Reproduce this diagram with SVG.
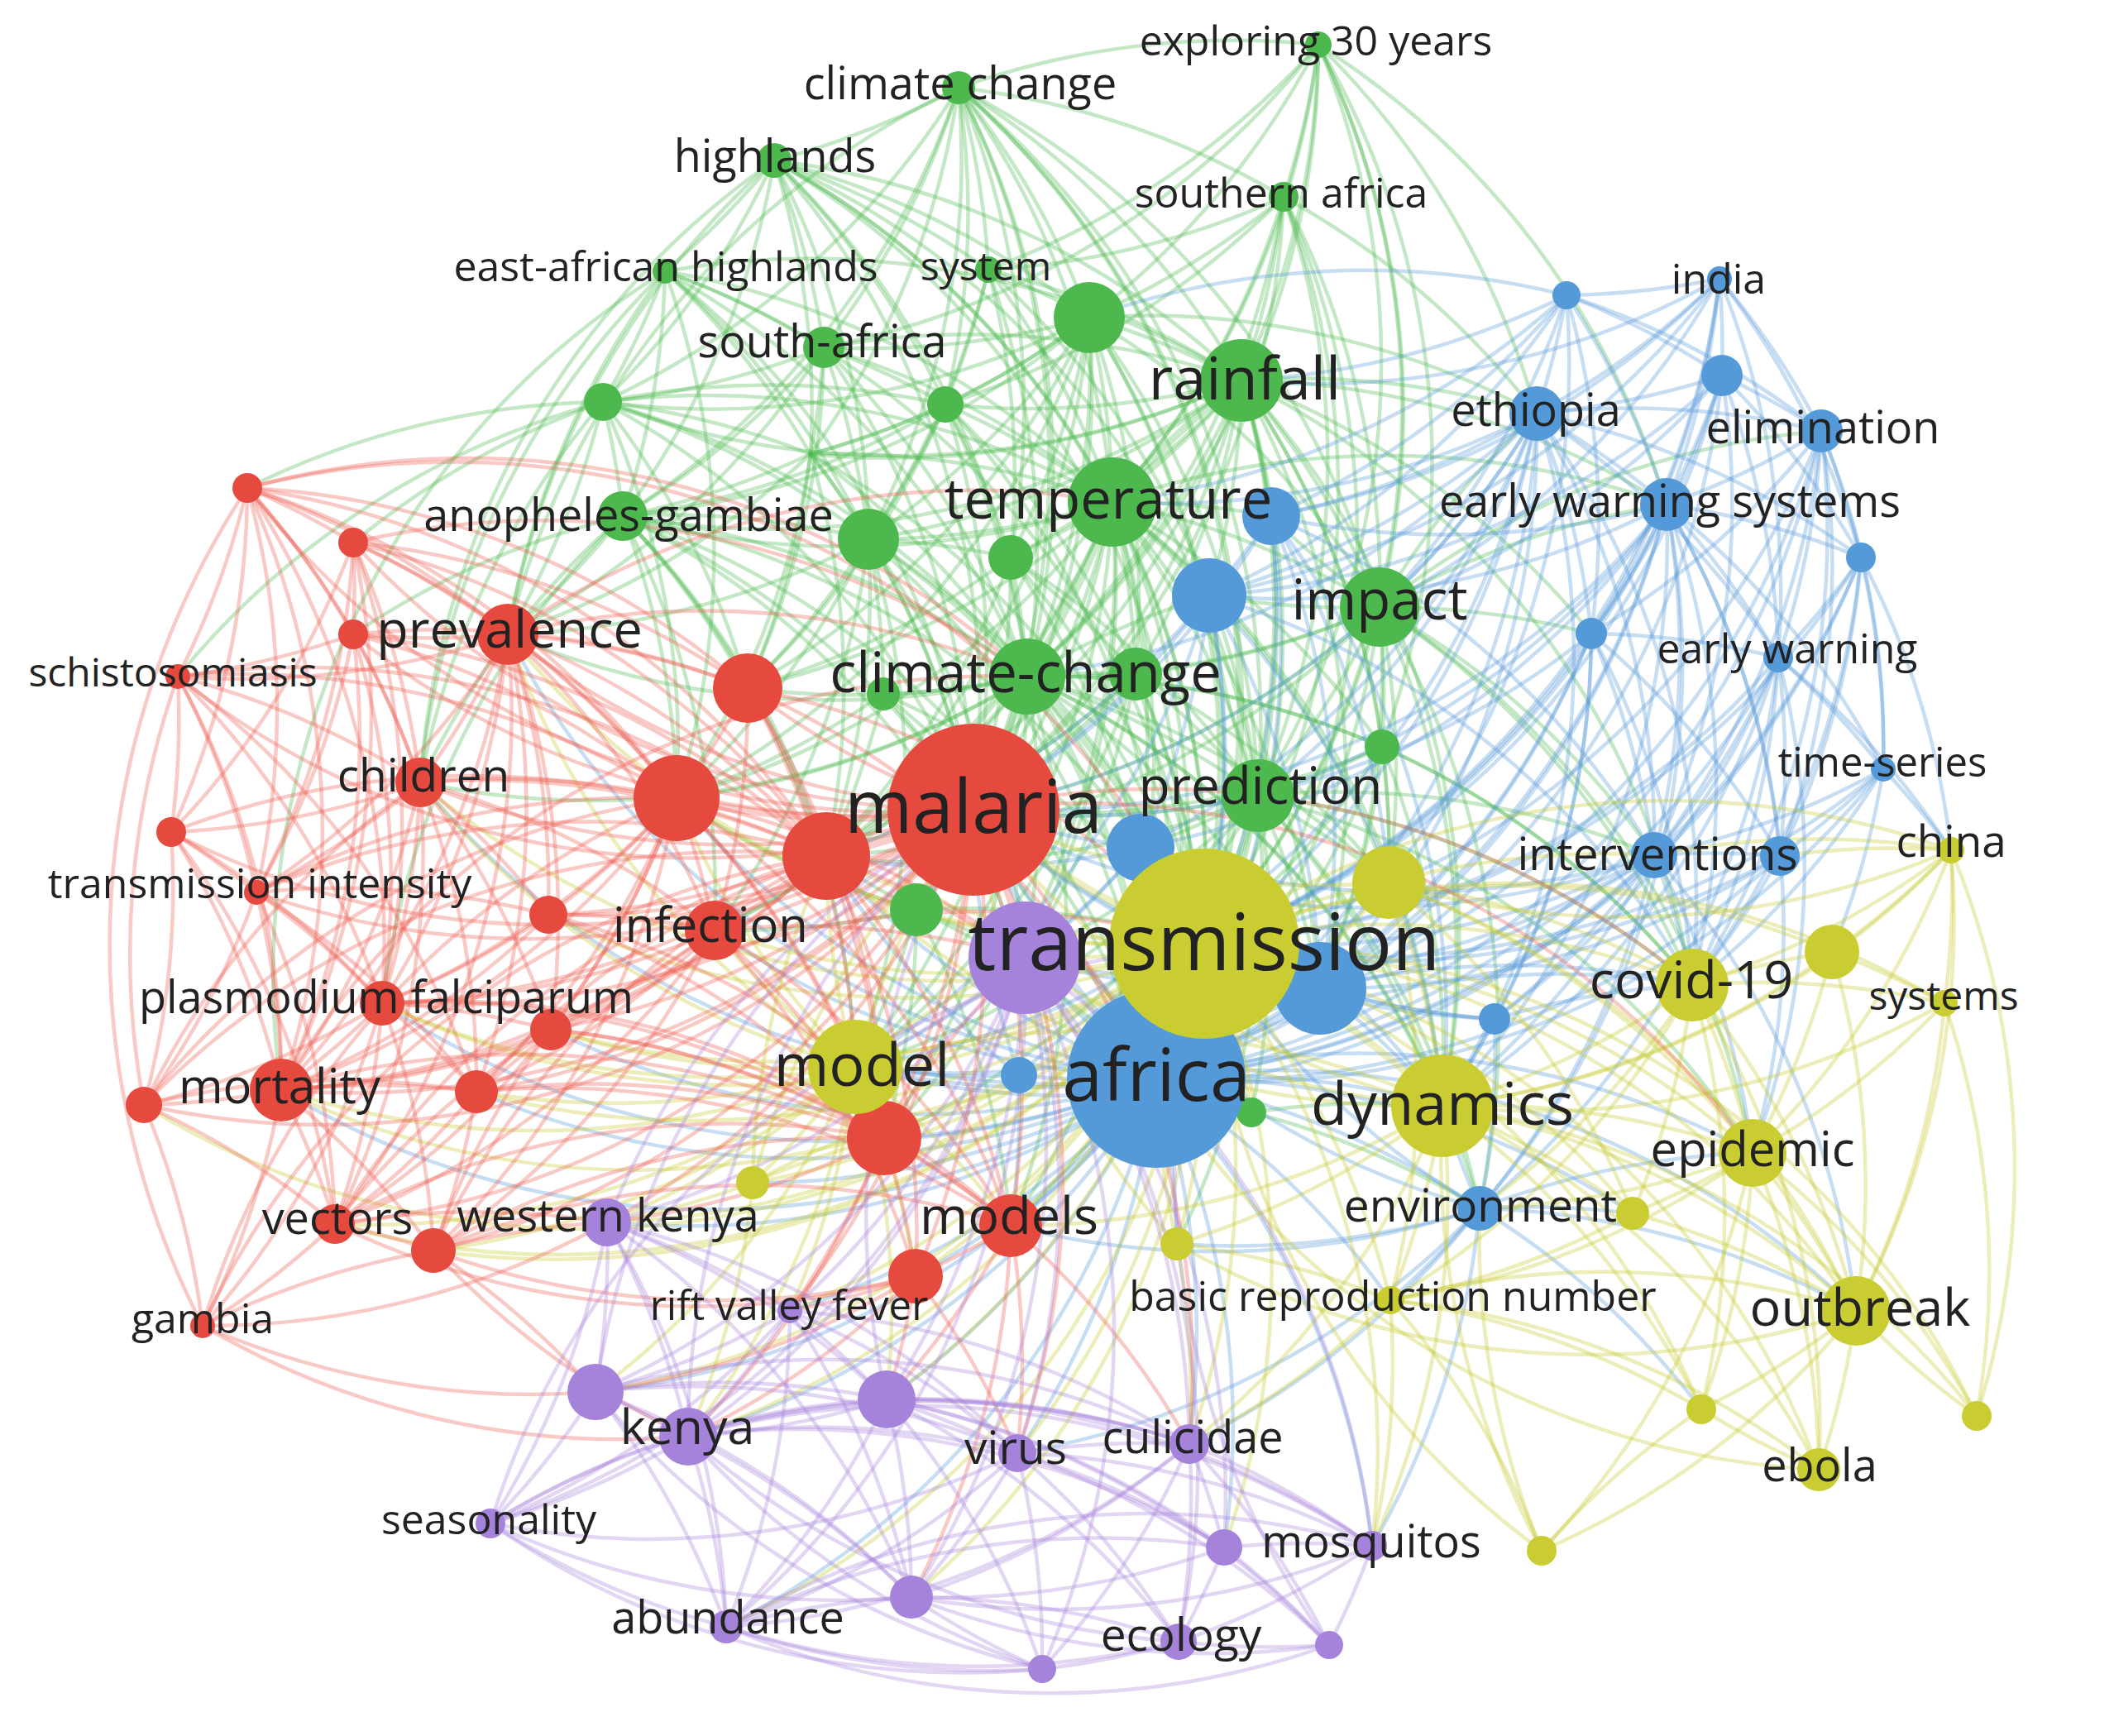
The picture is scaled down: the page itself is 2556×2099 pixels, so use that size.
<svg xmlns="http://www.w3.org/2000/svg" width="2556" height="2099" viewBox="0 0 2556 2099">
<style>
.e path{fill:none;stroke-width:4.5;stroke-opacity:.33;stroke-linecap:round}
.e .h path{stroke-width:9;stroke-opacity:.3}
.eg{stroke:#4db84e}.eb{stroke:#5499d8}.ey{stroke:#c4c82a}.er{stroke:#ec5a4f}.ep{stroke:#a683da}
.R circle{fill:#e64a3f}.G circle{fill:#4db84e}.B circle{fill:#5499d8}.Y circle{fill:#cacd32}.P circle{fill:#a683da}
text{font-family:"Open Sans","Liberation Sans",sans-serif;fill:#222;text-anchor:middle}
</style>
<rect width="2556" height="2099" fill="#fff"/>
<g id="connectors" class="e">
<g class="eg">
<path d="M1159 106A1000 1000 0 0 1 936 194"/><path d="M1159 106A1000 1000 0 0 1 1317 384"/><path d="M1159 106A1000 1000 0 0 1 1501 460"/><path d="M1159 106A1000 1000 0 0 1 1345 607"/><path d="M1159 106A1000 1000 0 0 1 1242 818"/><path d="M1159 106A1000 1000 0 0 1 1143 489"/><path d="M1159 106A1000 1000 0 0 1 980 549"/><path d="M1159 106A1000 1000 0 0 1 1050 652"/><path d="M1159 106A1000 1000 0 0 1 996 420"/><path d="M1159 106A1000 1000 0 0 1 1195 326"/><path d="M1159 106A1000 1000 0 0 1 1521 962"/><path d="M1159 106A1000 1000 0 0 1 753 624"/><path d="M1159 106A1000 1000 0 0 1 729 486"/><path d="M1159 106A1000 1000 0 0 1 1668 734"/><path d="M1159 106A1000 1000 0 0 1 1552 238"/><path d="M1159 106A1000 1000 0 0 1 1177 979"/><path d="M1159 106A1000 1000 0 0 1 1456 1141"/><path d="M1159 106A1000 1000 0 0 1 1222 674"/><path d="M1159 106A1000 1000 0 0 1 1398 1304"/><path d="M1159 106A1000 1000 0 0 0 614 767"/>
<path d="M1594 54A1000 1000 0 0 1 1552 238"/><path d="M1594 54A1000 1000 0 0 1 1501 460"/><path d="M1594 54A1000 1000 0 0 1 1317 384"/><path d="M1594 54A1000 1000 0 0 1 1345 607"/><path d="M1594 54A1000 1000 0 0 1 1668 734"/><path d="M1594 54A1000 1000 0 0 1 1671 903"/><path d="M1594 54A1000 1000 0 0 1 1521 962"/><path d="M1594 54A1000 1000 0 0 1 1242 818"/><path d="M1594 54A1000 1000 0 0 1 1195 326"/><path d="M1594 54A1000 1000 0 0 1 996 420"/><path d="M1594 54A1000 1000 0 0 0 1159 106"/><path d="M1594 54A1000 1000 0 0 1 1858 500"/><path d="M1594 54A1000 1000 0 0 1 2015 610"/><path d="M1594 54A1000 1000 0 0 1 1456 1141"/>
<path d="M936 194A1000 1000 0 0 1 804 328"/><path d="M936 194A1000 1000 0 0 1 996 420"/><path d="M936 194A1000 1000 0 0 1 729 486"/><path d="M936 194A1000 1000 0 0 1 980 549"/><path d="M936 194A1000 1000 0 0 1 1345 607"/><path d="M936 194A1000 1000 0 0 1 1242 818"/><path d="M936 194A1000 1000 0 0 1 753 624"/><path d="M936 194A1000 1000 0 0 1 1501 460"/><path d="M936 194A1000 1000 0 0 1 1317 384"/><path d="M936 194A1000 1000 0 0 1 1143 489"/><path d="M936 194A1000 1000 0 0 1 1050 652"/><path d="M936 194A1000 1000 0 0 1 1177 979"/><path d="M936 194A1000 1000 0 0 1 1521 962"/><path d="M936 194A1000 1000 0 0 1 1195 326"/><path d="M936 194A1000 1000 0 0 0 614 767"/><path d="M936 194A1000 1000 0 0 1 1456 1141"/><path d="M936 194A1000 1000 0 0 1 1398 1304"/><path d="M936 194A1000 1000 0 0 0 508 946"/>
<path d="M1552 238A1000 1000 0 0 1 1501 460"/><path d="M1552 238A1000 1000 0 0 1 1345 607"/><path d="M1552 238A1000 1000 0 0 1 1317 384"/><path d="M1552 238A1000 1000 0 0 1 1668 734"/><path d="M1552 238A1000 1000 0 0 1 1242 818"/><path d="M1552 238A1000 1000 0 0 1 1521 962"/><path d="M1552 238A1000 1000 0 0 1 1195 326"/><path d="M1552 238A1000 1000 0 0 1 1143 489"/><path d="M1552 238A1000 1000 0 0 1 1456 1141"/><path d="M1552 238A1000 1000 0 0 1 1858 500"/><path d="M1552 238A1000 1000 0 0 1 1398 1304"/><path d="M1552 238A1000 1000 0 0 1 1177 979"/>
<path d="M804 328A1000 1000 0 0 1 729 486"/><path d="M804 328A1000 1000 0 0 1 753 624"/><path d="M804 328A1000 1000 0 0 1 980 549"/><path d="M804 328A1000 1000 0 0 1 1242 818"/><path d="M804 328A1000 1000 0 0 1 1345 607"/><path d="M804 328A1000 1000 0 0 1 996 420"/><path d="M804 328A1000 1000 0 0 1 1177 979"/><path d="M804 328A1000 1000 0 0 1 1050 652"/><path d="M804 328A1000 1000 0 0 1 1501 460"/><path d="M804 328A1000 1000 0 0 0 508 946"/><path d="M804 328A1000 1000 0 0 0 340 1318"/><path d="M804 328A1000 1000 0 0 0 614 767"/><path d="M804 328A1000 1000 0 0 1 818 965"/><path d="M804 328A1000 1000 0 0 1 1456 1141"/>
<path d="M1195 326A1000 1000 0 0 1 1317 384"/><path d="M1195 326A1000 1000 0 0 1 1501 460"/><path d="M1195 326A1000 1000 0 0 1 1345 607"/><path d="M1195 326A1000 1000 0 0 1 1242 818"/><path d="M1195 326A1000 1000 0 0 1 1143 489"/><path d="M1195 326A1000 1000 0 0 1 1050 652"/><path d="M1195 326A1000 1000 0 0 1 1222 674"/><path d="M1195 326A1000 1000 0 0 1 1521 962"/>
<path d="M1317 384A1000 1000 0 0 1 1501 460"/><path d="M1317 384A1000 1000 0 0 1 1345 607"/><path d="M1317 384A1000 1000 0 0 1 1242 818"/><path d="M1317 384A1000 1000 0 0 1 1222 674"/><path d="M1317 384A1000 1000 0 0 1 1050 652"/><path d="M1317 384A1000 1000 0 0 1 1143 489"/><path d="M1317 384A1000 1000 0 0 1 980 549"/><path d="M1317 384A1000 1000 0 0 1 996 420"/><path d="M1317 384A1000 1000 0 0 1 1668 734"/><path d="M1317 384A1000 1000 0 0 1 1521 962"/><path d="M1317 384A1000 1000 0 0 1 1373 815"/><path d="M1317 384A1000 1000 0 0 1 1177 979"/><path d="M1317 384A1000 1000 0 0 1 1456 1141"/><path d="M1317 384A1000 1000 0 0 1 1398 1304"/><path d="M1317 384A1000 1000 0 0 1 753 624"/><path d="M1317 384A1000 1000 0 0 1 729 486"/><path d="M1317 384A1000 1000 0 0 1 1858 500"/><path d="M1317 384A1000 1000 0 0 1 904 832"/><path d="M1317 384A1000 1000 0 0 1 999 1035"/><path d="M1317 384A1000 1000 0 0 1 818 965"/>
<path d="M996 420A1000 1000 0 0 1 980 549"/><path d="M996 420A1000 1000 0 0 1 1345 607"/><path d="M996 420A1000 1000 0 0 1 1242 818"/><path d="M996 420A1000 1000 0 0 1 1501 460"/><path d="M996 420A1000 1000 0 0 1 1050 652"/><path d="M996 420A1000 1000 0 0 1 1143 489"/><path d="M996 420A1000 1000 0 0 1 753 624"/><path d="M996 420A1000 1000 0 0 1 1177 979"/><path d="M996 420A1000 1000 0 0 1 729 486"/><path d="M996 420A1000 1000 0 0 1 614 767"/><path d="M996 420A1000 1000 0 0 1 904 832"/>
<path d="M1501 460A1000 1000 0 0 1 1345 607"/><path d="M1501 460A1000 1000 0 0 1 1668 734"/><path d="M1501 460A1000 1000 0 0 1 1242 818"/><path d="M1501 460A1000 1000 0 0 1 1521 962"/><path d="M1501 460A1000 1000 0 0 1 1373 815"/><path d="M1501 460A1000 1000 0 0 1 1222 674"/><path d="M1501 460A1000 1000 0 0 1 1050 652"/><path d="M1501 460A1000 1000 0 0 1 1143 489"/><path d="M1501 460A1000 1000 0 0 1 980 549"/><path d="M1501 460A1000 1000 0 0 1 1858 500"/><path d="M1501 460A1000 1000 0 0 1 1462 720"/><path d="M1501 460A1000 1000 0 0 1 1537 624"/><path d="M1501 460A1000 1000 0 0 1 1177 979"/><path d="M1501 460A1000 1000 0 0 1 1456 1141"/><path d="M1501 460A1000 1000 0 0 1 1398 1304"/><path d="M1501 460A1000 1000 0 0 1 1671 903"/><path d="M1501 460A1000 1000 0 0 1 2015 610"/><path d="M1501 460A1000 1000 0 0 1 753 624"/><path d="M1501 460A1000 1000 0 0 1 1679 1067"/><path d="M1501 460A1000 1000 0 0 1 1596 1195"/><path d="M1501 460A1000 1000 0 0 1 729 486"/><path d="M1501 460A1000 1000 0 0 1 1744 1337"/><path d="M1501 460A1000 1000 0 0 1 2046 1191"/><path d="M1501 460A1000 1000 0 0 1 999 1035"/><path d="M1501 460A1000 1000 0 0 1 1924 766"/>
<path d="M729 486A1000 1000 0 0 1 753 624"/><path d="M729 486A1000 1000 0 0 1 980 549"/><path d="M729 486A1000 1000 0 0 1 1242 818"/><path d="M729 486A1000 1000 0 0 1 1345 607"/><path d="M729 486A1000 1000 0 0 1 614 767"/><path d="M729 486A1000 1000 0 0 1 904 832"/><path d="M729 486A1000 1000 0 0 1 1177 979"/><path d="M729 486A1000 1000 0 0 1 1050 652"/><path d="M729 486A1000 1000 0 0 1 818 965"/><path d="M729 486A1000 1000 0 0 1 1143 489"/><path d="M729 486A1000 1000 0 0 0 215 818"/><path d="M729 486A1000 1000 0 0 0 508 946"/><path d="M729 486A1000 1000 0 0 0 427 656"/><path d="M729 486A1000 1000 0 0 0 299 590"/>
<path d="M1143 489A1000 1000 0 0 1 1345 607"/><path d="M1143 489A1000 1000 0 0 1 1242 818"/><path d="M1143 489A1000 1000 0 0 1 1050 652"/><path d="M1143 489A1000 1000 0 0 1 1222 674"/><path d="M1143 489A1000 1000 0 0 1 1177 979"/><path d="M1143 489A1000 1000 0 0 1 980 549"/><path d="M1143 489A1000 1000 0 0 1 753 624"/><path d="M1143 489A1000 1000 0 0 1 904 832"/><path d="M1143 489A1000 1000 0 0 1 1456 1141"/><path d="M1143 489A1000 1000 0 0 1 1398 1304"/>
<path d="M980 549A1000 1000 0 0 1 753 624"/><path d="M980 549A1000 1000 0 0 1 1050 652"/><path d="M980 549A1000 1000 0 0 1 1242 818"/><path d="M980 549A1000 1000 0 0 1 1345 607"/><path d="M980 549A1000 1000 0 0 1 1177 979"/><path d="M980 549A1000 1000 0 0 1 818 965"/><path d="M980 549A1000 1000 0 0 1 904 832"/><path d="M980 549A1000 1000 0 0 1 614 767"/><path d="M980 549A1000 1000 0 0 1 999 1035"/><path d="M980 549A1000 1000 0 0 1 1456 1141"/>
<path d="M1345 607A1000 1000 0 0 1 1668 734"/><path d="M1345 607A1000 1000 0 0 1 1521 962"/><path d="M1345 607A1000 1000 0 0 1 1373 815"/><path d="M1345 607A1000 1000 0 0 1 1050 652"/><path d="M1345 607A1000 1000 0 0 1 1222 674"/><path d="M1345 607A1000 1000 0 0 1 1177 979"/><path d="M1345 607A1000 1000 0 0 1 1456 1141"/><path d="M1345 607A1000 1000 0 0 1 1398 1304"/><path d="M1345 607A1000 1000 0 0 1 1462 720"/><path d="M1345 607A1000 1000 0 0 1 1537 624"/><path d="M1345 607A1000 1000 0 0 1 753 624"/><path d="M1345 607A1000 1000 0 0 1 1671 903"/><path d="M1345 607A1000 1000 0 0 1 818 965"/><path d="M1345 607A1000 1000 0 0 1 999 1035"/><path d="M1345 607A1000 1000 0 0 1 1034 1290"/><path d="M1345 607A1000 1000 0 0 1 1679 1067"/><path d="M1345 607A1000 1000 0 0 1 1239 1158"/><path d="M1345 607A1000 1000 0 0 1 1108 1100"/><path d="M1345 607A1000 1000 0 0 1 1379 1025"/><path d="M1345 607A1000 1000 0 0 1 1596 1195"/><path d="M1345 607A1000 1000 0 0 1 1744 1337"/><path d="M1345 607A1000 1000 0 0 1 904 832"/><path d="M1345 607A1000 1000 0 0 1 864 1125"/><path d="M1345 607A1000 1000 0 0 1 1069 1376"/><path d="M1345 607A1000 1000 0 0 1 1222 1482"/><path d="M1345 607A1000 1000 0 0 1 2015 610"/>
<path d="M753 624A1000 1000 0 0 1 1050 652"/><path d="M753 624A1000 1000 0 0 1 1242 818"/><path d="M753 624A1000 1000 0 0 1 1177 979"/><path d="M753 624A1000 1000 0 0 1 904 832"/><path d="M753 624A1000 1000 0 0 1 818 965"/><path d="M753 624A1000 1000 0 0 1 614 767"/><path d="M753 624A1000 1000 0 0 1 1456 1141"/><path d="M753 624A1000 1000 0 0 1 1398 1304"/><path d="M753 624A1000 1000 0 0 1 1239 1158"/><path d="M753 624A1000 1000 0 0 1 999 1035"/><path d="M753 624A1000 1000 0 0 0 508 946"/><path d="M753 624A1000 1000 0 0 0 427 767"/><path d="M753 624A1000 1000 0 0 0 462 1213"/><path d="M753 624A1000 1000 0 0 1 864 1125"/><path d="M753 624A1000 1000 0 0 1 1034 1290"/>
<path d="M1050 652A1000 1000 0 0 1 1242 818"/><path d="M1050 652A1000 1000 0 0 1 1177 979"/><path d="M1050 652A1000 1000 0 0 1 1222 674"/><path d="M1050 652A1000 1000 0 0 1 1456 1141"/><path d="M1050 652A1000 1000 0 0 1 1398 1304"/><path d="M1050 652A1000 1000 0 0 1 818 965"/><path d="M1050 652A1000 1000 0 0 1 999 1035"/><path d="M1050 652A1000 1000 0 0 1 1068 839"/><path d="M1050 652A1000 1000 0 0 1 904 832"/><path d="M1050 652A1000 1000 0 0 1 614 767"/><path d="M1050 652A1000 1000 0 0 1 864 1125"/><path d="M1050 652A1000 1000 0 0 1 1239 1158"/><path d="M1050 652A1000 1000 0 0 1 1034 1290"/>
<path d="M1222 674A1000 1000 0 0 1 1242 818"/><path d="M1222 674A1000 1000 0 0 1 1177 979"/><path d="M1222 674A1000 1000 0 0 1 1456 1141"/><path d="M1222 674A1000 1000 0 0 1 1373 815"/><path d="M1222 674A1000 1000 0 0 1 904 832"/><path d="M1222 674A1000 1000 0 0 1 999 1035"/><path d="M1222 674A1000 1000 0 0 1 1398 1304"/><path d="M1222 674A1000 1000 0 0 1 1521 962"/>
<path d="M1668 734A1000 1000 0 0 1 1242 818"/><path d="M1668 734A1000 1000 0 0 1 1521 962"/><path d="M1668 734A1000 1000 0 0 1 1671 903"/><path d="M1668 734A1000 1000 0 0 1 1456 1141"/><path d="M1668 734A1000 1000 0 0 1 1398 1304"/><path d="M1668 734A1000 1000 0 0 1 1177 979"/><path d="M1668 734A1000 1000 0 0 1 1462 720"/><path d="M1668 734A1000 1000 0 0 1 1537 624"/><path d="M1668 734A1000 1000 0 0 1 1858 500"/><path d="M1668 734A1000 1000 0 0 1 2015 610"/><path d="M1668 734A1000 1000 0 0 1 1679 1067"/><path d="M1668 734A1000 1000 0 0 1 1596 1195"/><path d="M1668 734A1000 1000 0 0 1 1744 1337"/><path d="M1668 734A1000 1000 0 0 1 1373 815"/><path d="M1668 734A1000 1000 0 0 1 2000 1034"/><path d="M1668 734A1000 1000 0 0 1 2046 1191"/><path d="M1668 734A1000 1000 0 0 1 1924 766"/><path d="M1668 734A1000 1000 0 0 1 999 1035"/><path d="M1668 734A1000 1000 0 0 1 2119 1394"/><path d="M1668 734A1000 1000 0 0 1 1789 1461"/><path d="M1668 734A1000 1000 0 0 1 2202 521"/>
<path d="M1242 818A1000 1000 0 0 1 1521 962"/><path d="M1242 818A1000 1000 0 0 1 1373 815"/><path d="M1242 818A1000 1000 0 0 1 1068 839"/><path d="M1242 818A1000 1000 0 0 1 999 1035"/><path d="M1242 818A1000 1000 0 0 1 818 965"/><path d="M1242 818A1000 1000 0 0 1 1034 1290"/><path d="M1242 818A1000 1000 0 0 1 1239 1158"/><path d="M1242 818A1000 1000 0 0 1 1462 720"/><path d="M1242 818A1000 1000 0 0 1 1379 1025"/><path d="M1242 818A1000 1000 0 0 1 1108 1100"/><path d="M1242 818A1000 1000 0 0 1 1679 1067"/><path d="M1242 818A1000 1000 0 0 1 1744 1337"/><path d="M1242 818A1000 1000 0 0 1 864 1125"/><path d="M1242 818A1000 1000 0 0 1 904 832"/><path d="M1242 818A1000 1000 0 0 1 1671 903"/><path d="M1242 818A1000 1000 0 0 1 614 767"/><path d="M1242 818A1000 1000 0 0 1 1596 1195"/><path d="M1242 818A1000 1000 0 0 1 1069 1376"/><path d="M1242 818A1000 1000 0 0 1 1222 1482"/><path d="M1242 818A1000 1000 0 0 1 508 946"/><path d="M1242 818A1000 1000 0 0 1 1789 1461"/><path d="M1242 818A1000 1000 0 0 1 2046 1191"/>
<path d="M1373 815A1000 1000 0 0 1 1521 962"/><path d="M1373 815A1000 1000 0 0 1 1177 979"/><path d="M1373 815A1000 1000 0 0 1 1456 1141"/><path d="M1373 815A1000 1000 0 0 1 1398 1304"/><path d="M1373 815A1000 1000 0 0 1 1679 1067"/><path d="M1373 815A1000 1000 0 0 1 1239 1158"/><path d="M1373 815A1000 1000 0 0 1 1034 1290"/><path d="M1373 815A1000 1000 0 0 1 999 1035"/>
<path d="M1671 903A1000 1000 0 0 1 1521 962"/><path d="M1671 903A1000 1000 0 0 1 1456 1141"/><path d="M1671 903A1000 1000 0 0 1 1398 1304"/><path d="M1671 903A1000 1000 0 0 1 1679 1067"/><path d="M1671 903A1000 1000 0 0 1 1596 1195"/><path d="M1671 903A1000 1000 0 0 1 1744 1337"/><path d="M1671 903A1000 1000 0 0 1 2046 1191"/><path d="M1671 903A1000 1000 0 0 1 1177 979"/>
<path d="M1521 962A1000 1000 0 0 1 1456 1141"/><path d="M1521 962A1000 1000 0 0 1 1398 1304"/><path d="M1521 962A1000 1000 0 0 1 1177 979"/><path d="M1521 962A1000 1000 0 0 1 1679 1067"/><path d="M1521 962A1000 1000 0 0 1 1596 1195"/><path d="M1521 962A1000 1000 0 0 1 1744 1337"/><path d="M1521 962A1000 1000 0 0 1 1379 1025"/><path d="M1521 962A1000 1000 0 0 1 1034 1290"/><path d="M1521 962A1000 1000 0 0 1 1462 720"/><path d="M1521 962A1000 1000 0 0 1 1513 1345"/><path d="M1521 962A1000 1000 0 0 1 2000 1034"/><path d="M1521 962A1000 1000 0 0 1 2046 1191"/><path d="M1521 962A1000 1000 0 0 1 999 1035"/><path d="M1521 962A1000 1000 0 0 1 1069 1376"/><path d="M1521 962A1000 1000 0 0 1 1239 1158"/><path d="M1521 962A1000 1000 0 0 1 1789 1461"/><path d="M1521 962A1000 1000 0 0 1 2119 1394"/><path d="M1521 962A1000 1000 0 0 1 1222 1482"/><path d="M1521 962A1000 1000 0 0 1 1423 1504"/>
<path d="M1108 1100A1000 1000 0 0 1 1177 979"/><path d="M1108 1100A1000 1000 0 0 1 1456 1141"/><path d="M1108 1100A1000 1000 0 0 1 1398 1304"/><path d="M1108 1100A1000 1000 0 0 1 999 1035"/><path d="M1108 1100A1000 1000 0 0 1 1239 1158"/><path d="M1108 1100A1000 1000 0 0 1 1034 1290"/><path d="M1108 1100A1000 1000 0 0 1 818 965"/><path d="M1108 1100A1000 1000 0 0 1 1069 1376"/><path d="M1108 1100A1000 1000 0 0 1 1222 1482"/><path d="M1108 1100A1000 1000 0 0 1 864 1125"/>
<path d="M1513 1345A1000 1000 0 0 1 1456 1141"/><path d="M1513 1345A1000 1000 0 0 1 1398 1304"/><path d="M1513 1345A1000 1000 0 0 1 1744 1337"/><path d="M1513 1345A1000 1000 0 0 1 1177 979"/><path d="M1513 1345A1000 1000 0 0 1 1789 1461"/>
<path d="M1068 839A1000 1000 0 0 1 1177 979"/><path d="M1068 839A1000 1000 0 0 1 1456 1141"/><path d="M1068 839A1000 1000 0 0 1 999 1035"/><path d="M1068 839A1000 1000 0 0 1 1398 1304"/><path d="M1068 839A1000 1000 0 0 1 818 965"/>
<g class="h"><path d="M1242 818A1000 1000 0 0 1 1177 979"/><path d="M1345 607A1000 1000 0 0 1 1501 460"/><path d="M1242 818A1000 1000 0 0 1 1456 1141"/><path d="M1242 818A1000 1000 0 0 1 1398 1304"/><path d="M1345 607A1000 1000 0 0 1 1242 818"/></g>
</g>
<g class="eb">
<path d="M2079 337A1000 1000 0 0 1 1894 357"/><path d="M2079 337A1000 1000 0 0 1 2082 454"/><path d="M2079 337A1000 1000 0 0 1 1858 500"/><path d="M2079 337A1000 1000 0 0 1 2015 610"/><path d="M2079 337A1000 1000 0 0 1 2202 521"/><path d="M2079 337A1000 1000 0 0 1 1924 766"/><path d="M2079 337A1000 1000 0 0 1 1462 720"/><path d="M2079 337A1000 1000 0 0 1 1537 624"/><path d="M2079 337A1000 1000 0 0 1 1501 460"/><path d="M2079 337A1000 1000 0 0 1 1668 734"/><path d="M2079 337A1000 1000 0 0 1 1456 1141"/><path d="M2079 337A1000 1000 0 0 1 2250 674"/><path d="M2079 337A1000 1000 0 0 1 2150 795"/>
<path d="M1894 357A1000 1000 0 0 1 1858 500"/><path d="M1894 357A1000 1000 0 0 1 2082 454"/><path d="M1894 357A1000 1000 0 0 1 2202 521"/><path d="M1894 357A1000 1000 0 0 1 2015 610"/><path d="M1894 357A1000 1000 0 0 1 1501 460"/><path d="M1894 357A1000 1000 0 0 1 1668 734"/><path d="M1894 357A1000 1000 0 0 1 1462 720"/><path d="M1894 357A1000 1000 0 0 0 1317 384"/><path d="M1894 357A1000 1000 0 0 1 1345 607"/><path d="M1894 357A1000 1000 0 0 1 1398 1304"/><path d="M1894 357A1000 1000 0 0 1 1924 766"/><path d="M1894 357A1000 1000 0 0 1 1537 624"/>
<path d="M2082 454A1000 1000 0 0 1 1858 500"/><path d="M2082 454A1000 1000 0 0 1 2202 521"/><path d="M2082 454A1000 1000 0 0 1 2015 610"/><path d="M2082 454A1000 1000 0 0 1 1924 766"/><path d="M2082 454A1000 1000 0 0 1 2000 1034"/><path d="M2082 454A1000 1000 0 0 1 1668 734"/><path d="M2082 454A1000 1000 0 0 1 1462 720"/><path d="M2082 454A1000 1000 0 0 1 1456 1141"/><path d="M2082 454A1000 1000 0 0 1 1398 1304"/><path d="M2082 454A1000 1000 0 0 1 2150 795"/><path d="M2082 454A1000 1000 0 0 1 2250 674"/>
<path d="M1858 500A1000 1000 0 0 1 2015 610"/><path d="M1858 500A1000 1000 0 0 1 1462 720"/><path d="M1858 500A1000 1000 0 0 1 1537 624"/><path d="M1858 500A1000 1000 0 0 1 1668 734"/><path d="M1858 500A1000 1000 0 0 1 1924 766"/><path d="M1858 500A1000 1000 0 0 1 2000 1034"/><path d="M1858 500A1000 1000 0 0 1 2202 521"/><path d="M1858 500A1000 1000 0 0 1 1398 1304"/><path d="M1858 500A1000 1000 0 0 1 1456 1141"/><path d="M1858 500A1000 1000 0 0 1 1177 979"/><path d="M1858 500A1000 1000 0 0 1 1345 607"/><path d="M1858 500A1000 1000 0 0 1 1242 818"/><path d="M1858 500A1000 1000 0 0 1 1596 1195"/><path d="M1858 500A1000 1000 0 0 1 2150 795"/><path d="M1858 500A1000 1000 0 0 1 2250 674"/><path d="M1858 500A1000 1000 0 0 1 1744 1337"/><path d="M1858 500A1000 1000 0 0 1 1521 962"/><path d="M1858 500A1000 1000 0 0 1 1379 1025"/><path d="M1858 500A1000 1000 0 0 1 2046 1191"/><path d="M1858 500A1000 1000 0 0 1 1034 1290"/>
<path d="M2202 521A1000 1000 0 0 1 2015 610"/><path d="M2202 521A1000 1000 0 0 1 2250 674"/><path d="M2202 521A1000 1000 0 0 1 2150 795"/><path d="M2202 521A1000 1000 0 0 1 2000 1034"/><path d="M2202 521A1000 1000 0 0 1 1924 766"/><path d="M2202 521A1000 1000 0 0 1 2046 1191"/><path d="M2202 521A1000 1000 0 0 1 2152 1035"/><path d="M2202 521A1000 1000 0 0 1 2277 930"/><path d="M2202 521A1000 1000 0 0 1 1456 1141"/><path d="M2202 521A1000 1000 0 0 1 1398 1304"/><path d="M2202 521A1000 1000 0 0 1 1596 1195"/>
<path d="M2015 610A1000 1000 0 0 1 1924 766"/><path d="M2015 610A1000 1000 0 0 1 2150 795"/><path d="M2015 610A1000 1000 0 0 1 2000 1034"/><path d="M2015 610A1000 1000 0 0 1 1462 720"/><path d="M2015 610A1000 1000 0 0 1 1537 624"/><path d="M2015 610A1000 1000 0 0 1 2250 674"/><path d="M2015 610A1000 1000 0 0 1 1398 1304"/><path d="M2015 610A1000 1000 0 0 1 1456 1141"/><path d="M2015 610A1000 1000 0 0 1 2152 1035"/><path d="M2015 610A1000 1000 0 0 1 1596 1195"/><path d="M2015 610A1000 1000 0 0 1 1521 962"/><path d="M2015 610A1000 1000 0 0 1 2277 930"/><path d="M2015 610A1000 1000 0 0 1 2046 1191"/><path d="M2015 610A1000 1000 0 0 1 1744 1337"/><path d="M2015 610A1000 1000 0 0 1 1177 979"/><path d="M2015 610A1000 1000 0 0 1 2119 1394"/><path d="M2015 610A1000 1000 0 0 1 1789 1461"/><path d="M2015 610A1000 1000 0 0 1 1379 1025"/>
<path d="M1537 624A1000 1000 0 0 1 1462 720"/><path d="M1537 624A1000 1000 0 0 1 1398 1304"/><path d="M1537 624A1000 1000 0 0 1 1456 1141"/><path d="M1537 624A1000 1000 0 0 1 1177 979"/><path d="M1537 624A1000 1000 0 0 1 1596 1195"/><path d="M1537 624A1000 1000 0 0 1 1744 1337"/><path d="M1537 624A1000 1000 0 0 1 1679 1067"/><path d="M1537 624A1000 1000 0 0 1 2000 1034"/>
<path d="M2250 674A1000 1000 0 0 1 2150 795"/><path d="M2250 674A1000 1000 0 0 1 2000 1034"/><path d="M2250 674A1000 1000 0 0 1 2152 1035"/><path d="M2250 674A1000 1000 0 0 1 2277 930"/><path d="M2250 674A1000 1000 0 0 1 2359 1028"/><path d="M2250 674A1000 1000 0 0 1 1456 1141"/><path d="M2250 674A1000 1000 0 0 1 1398 1304"/><path d="M2250 674A1000 1000 0 0 1 2046 1191"/>
<path d="M1462 720A1000 1000 0 0 1 1398 1304"/><path d="M1462 720A1000 1000 0 0 1 1456 1141"/><path d="M1462 720A1000 1000 0 0 1 1177 979"/><path d="M1462 720A1000 1000 0 0 1 1596 1195"/><path d="M1462 720A1000 1000 0 0 1 1379 1025"/><path d="M1462 720A1000 1000 0 0 1 1744 1337"/><path d="M1462 720A1000 1000 0 0 1 1034 1290"/><path d="M1462 720A1000 1000 0 0 1 999 1035"/><path d="M1462 720A1000 1000 0 0 1 2046 1191"/>
<path d="M1924 766A1000 1000 0 0 1 2000 1034"/><path d="M1924 766A1000 1000 0 0 1 2150 795"/><path d="M1924 766A1000 1000 0 0 1 1398 1304"/><path d="M1924 766A1000 1000 0 0 1 1456 1141"/><path d="M1924 766A1000 1000 0 0 1 1596 1195"/><path d="M1924 766A1000 1000 0 0 1 2152 1035"/><path d="M1924 766A1000 1000 0 0 1 1807 1232"/><path d="M1924 766A1000 1000 0 0 1 1177 979"/><path d="M1924 766A1000 1000 0 0 1 1744 1337"/><path d="M1924 766A1000 1000 0 0 1 2046 1191"/>
<path d="M2150 795A1000 1000 0 0 1 2000 1034"/><path d="M2150 795A1000 1000 0 0 1 2152 1035"/><path d="M2150 795A1000 1000 0 0 1 2277 930"/><path d="M2150 795A1000 1000 0 0 1 2359 1028"/><path d="M2150 795A1000 1000 0 0 1 1398 1304"/><path d="M2150 795A1000 1000 0 0 1 1456 1141"/><path d="M2150 795A1000 1000 0 0 1 2046 1191"/><path d="M2150 795A1000 1000 0 0 1 1807 1232"/><path d="M2150 795A1000 1000 0 0 1 1789 1461"/><path d="M2150 795A1000 1000 0 0 1 1744 1337"/><path d="M2150 795A1000 1000 0 0 1 2119 1394"/>
<path d="M2277 930A1000 1000 0 0 1 2000 1034"/><path d="M2277 930A1000 1000 0 0 1 2152 1035"/><path d="M2277 930A1000 1000 0 0 1 2359 1028"/><path d="M2277 930A1000 1000 0 0 1 2046 1191"/><path d="M2277 930A1000 1000 0 0 1 1456 1141"/><path d="M2277 930A1000 1000 0 0 1 1398 1304"/><path d="M2277 930A1000 1000 0 0 1 2215 1151"/>
<path d="M2000 1034A1000 1000 0 0 1 2152 1035"/><path d="M2000 1034A1000 1000 0 0 1 1398 1304"/><path d="M2000 1034A1000 1000 0 0 1 1456 1141"/><path d="M2000 1034A1000 1000 0 0 1 1596 1195"/><path d="M2000 1034A1000 1000 0 0 1 1807 1232"/><path d="M2000 1034A1000 1000 0 0 1 1789 1461"/><path d="M2000 1034A1000 1000 0 0 1 2046 1191"/><path d="M2000 1034A1000 1000 0 0 1 1177 979"/><path d="M2000 1034A1000 1000 0 0 1 1744 1337"/><path d="M2000 1034A1000 1000 0 0 1 1379 1025"/><path d="M2000 1034A1000 1000 0 0 1 2119 1394"/><path d="M2000 1034A1000 1000 0 0 1 1034 1290"/><path d="M2000 1034A1000 1000 0 0 1 2244 1585"/><path d="M2000 1034A1000 1000 0 0 1 1239 1158"/>
<path d="M2152 1035A1000 1000 0 0 1 2046 1191"/><path d="M2152 1035A1000 1000 0 0 1 1456 1141"/><path d="M2152 1035A1000 1000 0 0 1 1398 1304"/><path d="M2152 1035A1000 1000 0 0 1 1596 1195"/>
<path d="M1379 1025A1000 1000 0 0 1 1398 1304"/><path d="M1379 1025A1000 1000 0 0 1 1456 1141"/><path d="M1379 1025A1000 1000 0 0 1 1177 979"/><path d="M1379 1025A1000 1000 0 0 1 1034 1290"/><path d="M1379 1025A1000 1000 0 0 1 1744 1337"/><path d="M1379 1025A1000 1000 0 0 1 1239 1158"/><path d="M1379 1025A1000 1000 0 0 1 999 1035"/>
<path d="M1596 1195A1000 1000 0 0 1 1398 1304"/><path d="M1596 1195A1000 1000 0 0 1 1456 1141"/><path d="M1596 1195A1000 1000 0 0 1 1177 979"/><path d="M1596 1195A1000 1000 0 0 1 1744 1337"/><path d="M1596 1195A1000 1000 0 0 1 1034 1290"/><path d="M1596 1195A1000 1000 0 0 1 2046 1191"/><path d="M1596 1195A1000 1000 0 0 1 1239 1158"/>
<path d="M1398 1304A1000 1000 0 0 1 1034 1290"/><path d="M1398 1304A1000 1000 0 0 1 1744 1337"/><path d="M1398 1304A1000 1000 0 0 1 1239 1158"/><path d="M1398 1304A1000 1000 0 0 1 999 1035"/><path d="M1398 1304A1000 1000 0 0 1 818 965"/><path d="M1398 1304A1000 1000 0 0 1 864 1125"/><path d="M1398 1304A1000 1000 0 0 1 1069 1376"/><path d="M1398 1304A1000 1000 0 0 1 1222 1482"/><path d="M1398 1304A1000 1000 0 0 1 1232 1300"/><path d="M1398 1304A1000 1000 0 0 1 1789 1461"/><path d="M1398 1304A1000 1000 0 0 1 1072 1692"/><path d="M1398 1304A1000 1000 0 0 1 832 1737"/><path d="M1398 1304A1000 1000 0 0 1 1438 1746"/><path d="M1398 1304A1000 1000 0 0 1 1681 1572"/><path d="M1398 1304A1000 1000 0 0 1 2119 1394"/><path d="M1398 1304A1000 1000 0 0 1 2046 1191"/><path d="M1398 1304A1000 1000 0 0 1 614 767"/><path d="M1398 1304A1000 1000 0 0 1 508 946"/><path d="M1398 1304A1000 1000 0 0 1 340 1318"/><path d="M1398 1304A1000 1000 0 0 1 720 1683"/><path d="M1398 1304A1000 1000 0 0 1 734 1478"/><path d="M1398 1304A1000 1000 0 0 1 1107 1543"/><path d="M1398 1304A1000 1000 0 0 1 910 1430"/><path d="M1398 1304A1000 1000 0 0 1 1423 1504"/><path d="M1398 1304A1000 1000 0 0 1 955 1585"/><path d="M1398 1304A1000 1000 0 0 1 1230 1757"/><path d="M1398 1304A1000 1000 0 0 1 2244 1585"/><path d="M1398 1304A1000 1000 0 0 1 1974 1467"/><path d="M1398 1304A1000 1000 0 0 1 462 1213"/><path d="M1398 1304A1000 1000 0 0 1 666 1245"/><path d="M1398 1304A1000 1000 0 0 1 576 1320"/><path d="M1398 1304A1000 1000 0 0 1 1659 1869"/><path d="M1398 1304A1000 1000 0 0 1 878 1967"/><path d="M1398 1304A1000 1000 0 0 1 1480 1871"/>
<path d="M1807 1232A1000 1000 0 0 1 1456 1141"/><path d="M1807 1232A1000 1000 0 0 1 1596 1195"/><path d="M1807 1232A1000 1000 0 0 1 1789 1461"/><path d="M1807 1232A1000 1000 0 0 1 1744 1337"/><path d="M1807 1232A1000 1000 0 0 1 2046 1191"/><path d="M1807 1232A1000 1000 0 0 1 1177 979"/>
<path d="M1232 1300A1000 1000 0 0 1 1456 1141"/><path d="M1232 1300A1000 1000 0 0 1 1177 979"/><path d="M1232 1300A1000 1000 0 0 1 1034 1290"/><path d="M1232 1300A1000 1000 0 0 1 1222 1482"/><path d="M1232 1300A1000 1000 0 0 1 999 1035"/>
<path d="M1789 1461A1000 1000 0 0 1 1456 1141"/><path d="M1789 1461A1000 1000 0 0 1 1744 1337"/><path d="M1789 1461A1000 1000 0 0 1 1681 1572"/><path d="M1789 1461A1000 1000 0 0 1 2119 1394"/><path d="M1789 1461A1000 1000 0 0 1 2244 1585"/><path d="M1789 1461A1000 1000 0 0 1 1438 1746"/><path d="M1789 1461A1000 1000 0 0 1 1659 1869"/><path d="M1789 1461A1000 1000 0 0 1 1974 1467"/><path d="M1789 1461A1000 1000 0 0 1 1423 1504"/><path d="M1789 1461A1000 1000 0 0 1 1230 1757"/><path d="M1789 1461A1000 1000 0 0 1 1177 979"/><path d="M1789 1461A1000 1000 0 0 1 1222 1482"/><path d="M1789 1461A1000 1000 0 0 1 2057 1704"/>
<g class="h"><path d="M1398 1304A1000 1000 0 0 1 1177 979"/><path d="M1398 1304A1000 1000 0 0 1 1456 1141"/></g>
</g>
<g class="ey">
<path d="M1456 1141A1000 1000 0 0 1 1034 1290"/><path d="M1456 1141A1000 1000 0 0 1 2119 1394"/><path d="M1456 1141A1000 1000 0 0 1 2046 1191"/><path d="M1456 1141A1000 1000 0 0 1 2244 1585"/><path d="M1456 1141A1000 1000 0 0 1 1679 1067"/><path d="M1456 1141A1000 1000 0 0 1 1239 1158"/><path d="M1456 1141A1000 1000 0 0 1 999 1035"/><path d="M1456 1141A1000 1000 0 0 1 818 965"/><path d="M1456 1141A1000 1000 0 0 1 864 1125"/><path d="M1456 1141A1000 1000 0 0 1 1069 1376"/><path d="M1456 1141A1000 1000 0 0 1 1222 1482"/><path d="M1456 1141A1000 1000 0 0 1 1681 1572"/><path d="M1456 1141A1000 1000 0 0 1 1974 1467"/><path d="M1456 1141A1000 1000 0 0 1 1423 1504"/><path d="M1456 1141A1000 1000 0 0 1 2215 1151"/><path d="M1456 1141A1000 1000 0 0 1 2359 1028"/><path d="M1456 1141A1000 1000 0 0 1 2351 1213"/><path d="M1456 1141A1000 1000 0 0 1 2199 1777"/><path d="M1456 1141A1000 1000 0 0 1 1072 1692"/><path d="M1456 1141A1000 1000 0 0 1 832 1737"/><path d="M1456 1141A1000 1000 0 0 1 1438 1746"/><path d="M1456 1141A1000 1000 0 0 1 614 767"/><path d="M1456 1141A1000 1000 0 0 1 508 946"/><path d="M1456 1141A1000 1000 0 0 1 340 1318"/><path d="M1456 1141A1000 1000 0 0 1 462 1213"/><path d="M1456 1141A1000 1000 0 0 1 734 1478"/><path d="M1456 1141A1000 1000 0 0 1 910 1430"/><path d="M1456 1141A1000 1000 0 0 1 2057 1704"/><path d="M1456 1141A1000 1000 0 0 1 1230 1757"/><path d="M1456 1141A1000 1000 0 0 1 2390 1712"/><path d="M1456 1141A1000 1000 0 0 1 1480 1871"/><path d="M1456 1141A1000 1000 0 0 1 1659 1869"/><path d="M1456 1141A1000 1000 0 0 1 878 1967"/><path d="M1456 1141A1000 1000 0 0 1 1102 1931"/><path d="M1456 1141A1000 1000 0 0 1 955 1585"/><path d="M1456 1141A1000 1000 0 0 1 720 1683"/><path d="M1456 1141A1000 1000 0 0 1 1107 1543"/><path d="M1456 1141A1000 1000 0 0 1 663 1106"/><path d="M1456 1141A1000 1000 0 0 1 666 1245"/><path d="M1456 1141A1000 1000 0 0 1 576 1320"/><path d="M1456 1141A1000 1000 0 0 1 405 1480"/><path d="M1456 1141A1000 1000 0 0 1 1513 1345"/><path d="M1456 1141A1000 1000 0 0 1 524 1512"/><path d="M1456 1141A1000 1000 0 0 1 174 1336"/>
<path d="M2359 1028A1000 1000 0 0 1 2046 1191"/><path d="M2359 1028A1000 1000 0 0 1 2215 1151"/><path d="M2359 1028A1000 1000 0 0 1 2351 1213"/><path d="M2359 1028A1000 1000 0 0 1 2119 1394"/><path d="M2359 1028A1000 1000 0 0 1 2244 1585"/><path d="M2359 1028A1000 1000 0 0 1 1744 1337"/><path d="M2359 1028A1000 1000 0 0 0 2000 1034"/><path d="M2359 1028A1000 1000 0 0 0 2152 1035"/><path d="M2359 1028A1000 1000 0 0 1 1679 1067"/><path d="M2359 1028A1000 1000 0 0 1 2390 1712"/>
<path d="M1679 1067A1000 1000 0 0 1 1398 1304"/><path d="M1679 1067A1000 1000 0 0 1 1177 979"/><path d="M1679 1067A1000 1000 0 0 1 1744 1337"/><path d="M1679 1067A1000 1000 0 0 1 2046 1191"/><path d="M1679 1067A1000 1000 0 0 1 2119 1394"/><path d="M1679 1067A1000 1000 0 0 1 2244 1585"/><path d="M1679 1067A1000 1000 0 0 1 2000 1034"/><path d="M1679 1067A1000 1000 0 0 1 1974 1467"/><path d="M1679 1067A1000 1000 0 0 1 1681 1572"/>
<path d="M2046 1191A1000 1000 0 0 1 2215 1151"/><path d="M2046 1191A1000 1000 0 0 1 2119 1394"/><path d="M2046 1191A1000 1000 0 0 1 2244 1585"/><path d="M2046 1191A1000 1000 0 0 1 2351 1213"/><path d="M2046 1191A1000 1000 0 0 1 1744 1337"/><path d="M2046 1191A1000 1000 0 0 1 1974 1467"/><path d="M2046 1191A1000 1000 0 0 1 1681 1572"/><path d="M2046 1191A1000 1000 0 0 1 2199 1777"/><path d="M2046 1191A1000 1000 0 0 1 2057 1704"/><path d="M2046 1191A1000 1000 0 0 1 1789 1461"/>
<path d="M2215 1151A1000 1000 0 0 1 2351 1213"/><path d="M2215 1151A1000 1000 0 0 1 2119 1394"/><path d="M2215 1151A1000 1000 0 0 1 2244 1585"/><path d="M2215 1151A1000 1000 0 0 1 1744 1337"/>
<path d="M2351 1213A1000 1000 0 0 1 2119 1394"/><path d="M2351 1213A1000 1000 0 0 1 2244 1585"/><path d="M2351 1213A1000 1000 0 0 1 1744 1337"/><path d="M2351 1213A1000 1000 0 0 1 2390 1712"/>
<path d="M1034 1290A1000 1000 0 0 1 1177 979"/><path d="M1034 1290A1000 1000 0 0 1 999 1035"/><path d="M1034 1290A1000 1000 0 0 1 818 965"/><path d="M1034 1290A1000 1000 0 0 1 864 1125"/><path d="M1034 1290A1000 1000 0 0 1 1069 1376"/><path d="M1034 1290A1000 1000 0 0 1 1239 1158"/><path d="M1034 1290A1000 1000 0 0 1 1222 1482"/><path d="M1034 1290A1000 1000 0 0 1 910 1430"/><path d="M1034 1290A1000 1000 0 0 1 734 1478"/><path d="M1034 1290A1000 1000 0 0 1 832 1737"/><path d="M1034 1290A1000 1000 0 0 1 508 946"/><path d="M1034 1290A1000 1000 0 0 1 462 1213"/><path d="M1034 1290A1000 1000 0 0 1 614 767"/><path d="M1034 1290A1000 1000 0 0 1 666 1245"/><path d="M1034 1290A1000 1000 0 0 1 576 1320"/><path d="M1034 1290A1000 1000 0 0 1 1072 1692"/><path d="M1034 1290A1000 1000 0 0 1 955 1585"/><path d="M1034 1290A1000 1000 0 0 1 1107 1543"/><path d="M1034 1290A1000 1000 0 0 1 720 1683"/><path d="M1034 1290A1000 1000 0 0 1 340 1318"/><path d="M1034 1290A1000 1000 0 0 1 405 1480"/><path d="M1034 1290A1000 1000 0 0 1 524 1512"/><path d="M1034 1290A1000 1000 0 0 1 1744 1337"/>
<path d="M1744 1337A1000 1000 0 0 1 2119 1394"/><path d="M1744 1337A1000 1000 0 0 1 2244 1585"/><path d="M1744 1337A1000 1000 0 0 1 1974 1467"/><path d="M1744 1337A1000 1000 0 0 1 1681 1572"/><path d="M1744 1337A1000 1000 0 0 1 2199 1777"/><path d="M1744 1337A1000 1000 0 0 1 1177 979"/><path d="M1744 1337A1000 1000 0 0 1 1423 1504"/><path d="M1744 1337A1000 1000 0 0 1 2057 1704"/><path d="M1744 1337A1000 1000 0 0 1 1438 1746"/><path d="M1744 1337A1000 1000 0 0 1 1239 1158"/><path d="M1744 1337A1000 1000 0 0 1 999 1035"/><path d="M1744 1337A1000 1000 0 0 1 1222 1482"/><path d="M1744 1337A1000 1000 0 0 1 1659 1869"/><path d="M1744 1337A1000 1000 0 0 1 2390 1712"/>
<path d="M2119 1394A1000 1000 0 0 1 2244 1585"/><path d="M2119 1394A1000 1000 0 0 1 2199 1777"/><path d="M2119 1394A1000 1000 0 0 1 1974 1467"/><path d="M2119 1394A1000 1000 0 0 1 1681 1572"/><path d="M2119 1394A1000 1000 0 0 1 2057 1704"/><path d="M2119 1394A1000 1000 0 0 1 2390 1712"/><path d="M2119 1394A1000 1000 0 0 1 1789 1461"/><path d="M2119 1394A1000 1000 0 0 1 1864 1875"/>
<path d="M910 1430A1000 1000 0 0 1 1177 979"/><path d="M910 1430A1000 1000 0 0 1 734 1478"/><path d="M910 1430A1000 1000 0 0 1 1069 1376"/><path d="M910 1430A1000 1000 0 0 1 1398 1304"/><path d="M910 1430A1000 1000 0 0 1 999 1035"/><path d="M910 1430A1000 1000 0 0 1 832 1737"/>
<path d="M1974 1467A1000 1000 0 0 1 2244 1585"/><path d="M1974 1467A1000 1000 0 0 1 1681 1572"/><path d="M1423 1504A1000 1000 0 0 1 1681 1572"/><path d="M1423 1504A1000 1000 0 0 1 1398 1304"/><path d="M1423 1504A1000 1000 0 0 1 1438 1746"/><path d="M1423 1504A1000 1000 0 0 1 1177 979"/>
<path d="M1681 1572A1000 1000 0 0 1 2244 1585"/><path d="M1681 1572A1000 1000 0 0 1 1864 1875"/><path d="M1681 1572A1000 1000 0 0 1 2199 1777"/><path d="M1681 1572A1000 1000 0 0 1 2057 1704"/><path d="M1681 1572A1000 1000 0 0 1 1438 1746"/><path d="M1681 1572A1000 1000 0 0 1 1659 1869"/>
<path d="M2244 1585A1000 1000 0 0 1 2199 1777"/><path d="M2244 1585A1000 1000 0 0 1 2057 1704"/><path d="M2244 1585A1000 1000 0 0 0 2390 1712"/><path d="M2244 1585A1000 1000 0 0 1 1864 1875"/><path d="M2244 1585A1000 1000 0 0 1 1423 1504"/><path d="M2199 1777A1000 1000 0 0 1 1398 1304"/><path d="M2199 1777A1000 1000 0 0 1 2057 1704"/>
<path d="M1864 1875A1000 1000 0 0 1 1744 1337"/><path d="M1864 1875A1000 1000 0 0 1 1456 1141"/><path d="M1864 1875A1000 1000 0 0 1 1789 1461"/><path d="M1864 1875A1000 1000 0 0 1 2057 1704"/>
<g class="h"><path d="M1456 1141A1000 1000 0 0 1 1177 979"/><path d="M1456 1141A1000 1000 0 0 1 1744 1337"/></g>
</g>
<g class="er">
<path d="M1177 979A1000 1000 0 0 1 904 832"/><path d="M1177 979A1000 1000 0 0 1 614 767"/><path d="M1177 979A1000 1000 0 0 1 508 946"/><path d="M1177 979A1000 1000 0 0 1 864 1125"/><path d="M1177 979A1000 1000 0 0 1 462 1213"/><path d="M1177 979A1000 1000 0 0 1 340 1318"/><path d="M1177 979A1000 1000 0 0 1 1069 1376"/><path d="M1177 979A1000 1000 0 0 1 1222 1482"/><path d="M1177 979A1000 1000 0 0 1 1107 1543"/><path d="M1177 979A1000 1000 0 0 1 663 1106"/><path d="M1177 979A1000 1000 0 0 1 666 1245"/><path d="M1177 979A1000 1000 0 0 1 576 1320"/><path d="M1177 979A1000 1000 0 0 1 405 1480"/><path d="M1177 979A1000 1000 0 0 1 524 1512"/><path d="M1177 979A1000 1000 0 0 1 1239 1158"/><path d="M1177 979A1000 1000 0 0 1 299 590"/><path d="M1177 979A1000 1000 0 0 1 427 656"/><path d="M1177 979A1000 1000 0 0 1 427 767"/><path d="M1177 979A1000 1000 0 0 1 215 818"/><path d="M1177 979A1000 1000 0 0 1 207 1006"/><path d="M1177 979A1000 1000 0 0 1 310 1079"/><path d="M1177 979A1000 1000 0 0 1 174 1336"/><path d="M1177 979A1000 1000 0 0 1 245 1603"/><path d="M1177 979A1000 1000 0 0 1 2119 1394"/><path d="M1177 979A1000 1000 0 0 1 2046 1191"/><path d="M1177 979A1000 1000 0 0 1 1438 1746"/><path d="M1177 979A1000 1000 0 0 1 1230 1757"/><path d="M1177 979A1000 1000 0 0 1 955 1585"/>
<path d="M299 590A1000 1000 0 0 1 614 767"/><path d="M299 590A1000 1000 0 0 1 508 946"/><path d="M299 590A1000 1000 0 0 1 818 965"/><path d="M299 590A1000 1000 0 0 1 427 767"/><path d="M299 590A1000 1000 0 0 1 427 656"/><path d="M299 590A1000 1000 0 0 1 462 1213"/><path d="M299 590A1000 1000 0 0 1 340 1318"/><path d="M299 590A1000 1000 0 0 1 999 1035"/><path d="M299 590A1000 1000 0 0 1 215 818"/><path d="M299 590A1000 1000 0 0 1 904 832"/><path d="M299 590A1000 1000 0 0 1 310 1079"/><path d="M299 590A1000 1000 0 0 1 207 1006"/><path d="M299 590A1000 1000 0 0 1 1456 1141"/><path d="M299 590A1000 1000 0 0 1 1242 818"/>
<path d="M427 656A1000 1000 0 0 1 614 767"/><path d="M427 656A1000 1000 0 0 1 427 767"/><path d="M427 656A1000 1000 0 0 1 508 946"/><path d="M427 656A1000 1000 0 0 1 818 965"/><path d="M427 656A1000 1000 0 0 1 904 832"/><path d="M427 656A1000 1000 0 0 1 462 1213"/><path d="M427 656A1000 1000 0 0 1 340 1318"/><path d="M427 656A1000 1000 0 0 1 999 1035"/><path d="M427 656A1000 1000 0 0 1 310 1079"/><path d="M427 656A1000 1000 0 0 1 207 1006"/><path d="M427 656A1000 1000 0 0 1 1242 818"/>
<path d="M614 767A1000 1000 0 0 1 508 946"/><path d="M614 767A1000 1000 0 0 1 818 965"/><path d="M614 767A1000 1000 0 0 1 904 832"/><path d="M614 767A1000 1000 0 0 1 999 1035"/><path d="M614 767A1000 1000 0 0 1 864 1125"/><path d="M614 767A1000 1000 0 0 1 462 1213"/><path d="M614 767A1000 1000 0 0 1 340 1318"/><path d="M614 767A1000 1000 0 0 1 427 767"/><path d="M614 767A1000 1000 0 0 1 215 818"/><path d="M614 767A1000 1000 0 0 1 310 1079"/><path d="M614 767A1000 1000 0 0 1 663 1106"/><path d="M614 767A1000 1000 0 0 1 1242 818"/><path d="M614 767A1000 1000 0 0 1 1345 607"/><path d="M614 767A1000 1000 0 0 1 576 1320"/><path d="M614 767A1000 1000 0 0 1 666 1245"/><path d="M614 767A1000 1000 0 0 1 405 1480"/>
<path d="M427 767A1000 1000 0 0 1 508 946"/><path d="M427 767A1000 1000 0 0 1 818 965"/><path d="M427 767A1000 1000 0 0 1 462 1213"/><path d="M427 767A1000 1000 0 0 1 215 818"/><path d="M427 767A1000 1000 0 0 1 999 1035"/><path d="M427 767A1000 1000 0 0 1 340 1318"/><path d="M427 767A1000 1000 0 0 1 310 1079"/><path d="M427 767A1000 1000 0 0 1 904 832"/>
<path d="M215 818A1000 1000 0 0 1 508 946"/><path d="M215 818A1000 1000 0 0 1 818 965"/><path d="M215 818A1000 1000 0 0 1 462 1213"/><path d="M215 818A1000 1000 0 0 1 340 1318"/><path d="M215 818A1000 1000 0 0 1 207 1006"/><path d="M215 818A1000 1000 0 0 1 310 1079"/><path d="M215 818A1000 1000 0 0 1 999 1035"/><path d="M215 818A1000 1000 0 0 0 174 1336"/><path d="M215 818A1000 1000 0 0 1 576 1320"/>
<path d="M904 832A1000 1000 0 0 1 818 965"/><path d="M904 832A1000 1000 0 0 1 999 1035"/><path d="M904 832A1000 1000 0 0 1 864 1125"/><path d="M904 832A1000 1000 0 0 1 1456 1141"/><path d="M904 832A1000 1000 0 0 1 1034 1290"/><path d="M904 832A1000 1000 0 0 1 1069 1376"/><path d="M904 832A1000 1000 0 0 1 1398 1304"/>
<path d="M508 946A1000 1000 0 0 1 818 965"/><path d="M508 946A1000 1000 0 0 1 999 1035"/><path d="M508 946A1000 1000 0 0 1 462 1213"/><path d="M508 946A1000 1000 0 0 1 340 1318"/><path d="M508 946A1000 1000 0 0 1 310 1079"/><path d="M508 946A1000 1000 0 0 1 663 1106"/><path d="M508 946A1000 1000 0 0 1 864 1125"/><path d="M508 946A1000 1000 0 0 1 405 1480"/><path d="M508 946A1000 1000 0 0 1 207 1006"/><path d="M508 946A1000 1000 0 0 1 576 1320"/><path d="M508 946A1000 1000 0 0 1 666 1245"/>
<path d="M818 965A1000 1000 0 0 1 864 1125"/><path d="M818 965A1000 1000 0 0 1 462 1213"/><path d="M818 965A1000 1000 0 0 1 340 1318"/><path d="M818 965A1000 1000 0 0 1 405 1480"/><path d="M818 965A1000 1000 0 0 1 524 1512"/><path d="M818 965A1000 1000 0 0 1 663 1106"/><path d="M818 965A1000 1000 0 0 1 666 1245"/><path d="M818 965A1000 1000 0 0 1 576 1320"/><path d="M818 965A1000 1000 0 0 1 1069 1376"/><path d="M818 965A1000 1000 0 0 1 1222 1482"/><path d="M818 965A1000 1000 0 0 1 1034 1290"/><path d="M818 965A1000 1000 0 0 1 1239 1158"/>
<path d="M207 1006A1000 1000 0 0 1 462 1213"/><path d="M207 1006A1000 1000 0 0 1 340 1318"/><path d="M207 1006A1000 1000 0 0 1 310 1079"/><path d="M207 1006A1000 1000 0 0 1 999 1035"/><path d="M207 1006A1000 1000 0 0 1 174 1336"/><path d="M207 1006A1000 1000 0 0 1 405 1480"/>
<path d="M999 1035A1000 1000 0 0 1 864 1125"/><path d="M999 1035A1000 1000 0 0 1 1069 1376"/><path d="M999 1035A1000 1000 0 0 1 1222 1482"/><path d="M999 1035A1000 1000 0 0 1 663 1106"/><path d="M999 1035A1000 1000 0 0 1 462 1213"/><path d="M999 1035A1000 1000 0 0 1 666 1245"/><path d="M999 1035A1000 1000 0 0 1 340 1318"/><path d="M999 1035A1000 1000 0 0 1 1239 1158"/><path d="M999 1035A1000 1000 0 0 1 1107 1543"/>
<path d="M310 1079A1000 1000 0 0 1 462 1213"/><path d="M310 1079A1000 1000 0 0 1 340 1318"/><path d="M310 1079A1000 1000 0 0 1 663 1106"/><path d="M310 1079A1000 1000 0 0 1 174 1336"/><path d="M310 1079A1000 1000 0 0 1 818 965"/><path d="M310 1079A1000 1000 0 0 1 999 1035"/><path d="M310 1079A1000 1000 0 0 1 576 1320"/><path d="M310 1079A1000 1000 0 0 1 405 1480"/>
<path d="M663 1106A1000 1000 0 0 1 864 1125"/><path d="M663 1106A1000 1000 0 0 1 462 1213"/><path d="M663 1106A1000 1000 0 0 1 340 1318"/><path d="M663 1106A1000 1000 0 0 1 1069 1376"/><path d="M663 1106A1000 1000 0 0 1 1034 1290"/>
<path d="M864 1125A1000 1000 0 0 1 462 1213"/><path d="M864 1125A1000 1000 0 0 1 340 1318"/><path d="M864 1125A1000 1000 0 0 1 1069 1376"/><path d="M864 1125A1000 1000 0 0 1 666 1245"/><path d="M864 1125A1000 1000 0 0 1 576 1320"/><path d="M864 1125A1000 1000 0 0 1 405 1480"/><path d="M864 1125A1000 1000 0 0 1 524 1512"/><path d="M864 1125A1000 1000 0 0 1 1222 1482"/><path d="M864 1125A1000 1000 0 0 1 1107 1543"/><path d="M864 1125A1000 1000 0 0 1 1239 1158"/>
<path d="M462 1213A1000 1000 0 0 1 340 1318"/><path d="M462 1213A1000 1000 0 0 1 576 1320"/><path d="M462 1213A1000 1000 0 0 1 666 1245"/><path d="M462 1213A1000 1000 0 0 1 405 1480"/><path d="M462 1213A1000 1000 0 0 1 524 1512"/><path d="M462 1213A1000 1000 0 0 1 174 1336"/><path d="M462 1213A1000 1000 0 0 1 245 1603"/><path d="M462 1213A1000 1000 0 0 1 1069 1376"/><path d="M462 1213A1000 1000 0 0 1 1222 1482"/>
<path d="M666 1245A1000 1000 0 0 1 340 1318"/><path d="M666 1245A1000 1000 0 0 1 576 1320"/><path d="M666 1245A1000 1000 0 0 1 1069 1376"/><path d="M666 1245A1000 1000 0 0 1 1222 1482"/><path d="M666 1245A1000 1000 0 0 1 1456 1141"/>
<path d="M340 1318A1000 1000 0 0 1 174 1336"/><path d="M340 1318A1000 1000 0 0 1 405 1480"/><path d="M340 1318A1000 1000 0 0 1 524 1512"/><path d="M340 1318A1000 1000 0 0 1 576 1320"/><path d="M340 1318A1000 1000 0 0 1 245 1603"/><path d="M340 1318A1000 1000 0 0 1 1069 1376"/><path d="M340 1318A1000 1000 0 0 1 1242 818"/>
<path d="M174 1336A1000 1000 0 0 1 405 1480"/><path d="M174 1336A1000 1000 0 0 1 245 1603"/><path d="M174 1336A1000 1000 0 0 1 508 946"/><path d="M174 1336A1000 1000 0 0 1 818 965"/><path d="M174 1336A1000 1000 0 0 1 999 1035"/><path d="M174 1336A1000 1000 0 0 1 576 1320"/>
<path d="M576 1320A1000 1000 0 0 1 405 1480"/><path d="M576 1320A1000 1000 0 0 1 524 1512"/><path d="M576 1320A1000 1000 0 0 1 1069 1376"/><path d="M576 1320A1000 1000 0 0 1 999 1035"/><path d="M576 1320A1000 1000 0 0 1 1222 1482"/>
<path d="M1069 1376A1000 1000 0 0 1 1222 1482"/><path d="M1069 1376A1000 1000 0 0 1 1107 1543"/><path d="M1069 1376A1000 1000 0 0 1 1239 1158"/><path d="M1069 1376A1000 1000 0 0 1 734 1478"/><path d="M1069 1376A1000 1000 0 0 1 955 1585"/><path d="M1069 1376A1000 1000 0 0 1 832 1737"/>
<path d="M405 1480A1000 1000 0 0 1 524 1512"/><path d="M405 1480A1000 1000 0 0 1 245 1603"/><path d="M405 1480A1000 1000 0 0 1 999 1035"/><path d="M405 1480A1000 1000 0 0 0 1107 1543"/><path d="M405 1480A1000 1000 0 0 1 734 1478"/><path d="M405 1480A1000 1000 0 0 1 666 1245"/><path d="M405 1480A1000 1000 0 0 1 1069 1376"/>
<path d="M524 1512A1000 1000 0 0 0 1107 1543"/><path d="M524 1512A1000 1000 0 0 1 999 1035"/><path d="M524 1512A1000 1000 0 0 1 1069 1376"/><path d="M524 1512A1000 1000 0 0 1 734 1478"/><path d="M524 1512A1000 1000 0 0 1 720 1683"/><path d="M524 1512A1000 1000 0 0 0 832 1737"/><path d="M524 1512A1000 1000 0 0 1 1222 1482"/><path d="M524 1512A1000 1000 0 0 1 666 1245"/>
<path d="M1222 1482A1000 1000 0 0 1 1107 1543"/><path d="M1222 1482A1000 1000 0 0 1 1072 1692"/><path d="M1222 1482A1000 1000 0 0 1 1230 1757"/><path d="M1222 1482A1000 1000 0 0 1 1438 1746"/><path d="M1222 1482A1000 1000 0 0 1 1102 1931"/>
<path d="M1107 1543A1000 1000 0 0 1 1072 1692"/><path d="M1107 1543A1000 1000 0 0 1 832 1737"/><path d="M1107 1543A1000 1000 0 0 1 955 1585"/><path d="M1107 1543A1000 1000 0 0 1 1230 1757"/><path d="M1107 1543A1000 1000 0 0 1 720 1683"/>
<path d="M245 1603A1000 1000 0 0 1 818 965"/><path d="M245 1603A1000 1000 0 0 0 720 1683"/><path d="M245 1603A1000 1000 0 0 0 832 1737"/><path d="M245 1603A1000 1000 0 0 1 524 1512"/><path d="M299 590A1000 1000 0 0 0 245 1603"/><path d="M245 1603A1000 1000 0 0 1 999 1035"/>
<g class="h"><path d="M1177 979A1000 1000 0 0 1 818 965"/><path d="M1177 979A1000 1000 0 0 1 999 1035"/></g>
</g>
<g class="ep">
<path d="M1239 1158A1000 1000 0 0 1 734 1478"/><path d="M1239 1158A1000 1000 0 0 1 720 1683"/><path d="M1239 1158A1000 1000 0 0 1 1072 1692"/><path d="M1239 1158A1000 1000 0 0 1 832 1737"/><path d="M1239 1158A1000 1000 0 0 1 1230 1757"/><path d="M1239 1158A1000 1000 0 0 1 1438 1746"/><path d="M1239 1158A1000 1000 0 0 1 878 1967"/><path d="M1239 1158A1000 1000 0 0 1 1102 1931"/><path d="M1239 1158A1000 1000 0 0 1 955 1585"/><path d="M1239 1158A1000 1000 0 0 1 1034 1290"/><path d="M1239 1158A1000 1000 0 0 1 593 1842"/><path d="M1239 1158A1000 1000 0 0 1 1480 1871"/><path d="M1239 1158A1000 1000 0 0 1 1425 1985"/><path d="M1239 1158A1000 1000 0 0 1 1659 1869"/><path d="M1239 1158A1000 1000 0 0 1 1260 2018"/>
<path d="M734 1478A1000 1000 0 0 1 720 1683"/><path d="M734 1478A1000 1000 0 0 1 832 1737"/><path d="M734 1478A1000 1000 0 0 1 1072 1692"/><path d="M734 1478A1000 1000 0 0 1 955 1585"/><path d="M734 1478A1000 1000 0 0 1 593 1842"/><path d="M734 1478A1000 1000 0 0 1 878 1967"/><path d="M734 1478A1000 1000 0 0 1 1177 979"/><path d="M734 1478A1000 1000 0 0 1 1230 1757"/><path d="M734 1478A1000 1000 0 0 1 1102 1931"/>
<path d="M955 1585A1000 1000 0 0 1 832 1737"/><path d="M955 1585A1000 1000 0 0 1 1072 1692"/><path d="M955 1585A1000 1000 0 0 1 1230 1757"/><path d="M955 1585A1000 1000 0 0 1 720 1683"/><path d="M955 1585A1000 1000 0 0 1 1102 1931"/><path d="M955 1585A1000 1000 0 0 1 1438 1746"/><path d="M955 1585A1000 1000 0 0 1 878 1967"/><path d="M955 1585A1000 1000 0 0 1 593 1842"/>
<path d="M720 1683A1000 1000 0 0 1 832 1737"/><path d="M720 1683A1000 1000 0 0 1 1072 1692"/><path d="M720 1683A1000 1000 0 0 1 593 1842"/><path d="M720 1683A1000 1000 0 0 1 878 1967"/><path d="M720 1683A1000 1000 0 0 1 1102 1931"/><path d="M720 1683A1000 1000 0 0 1 1230 1757"/><path d="M720 1683A1000 1000 0 0 1 1177 979"/><path d="M720 1683A1000 1000 0 0 1 1438 1746"/><path d="M720 1683A1000 1000 0 0 0 1260 2018"/>
<path d="M1072 1692A1000 1000 0 0 1 832 1737"/><path d="M1072 1692A1000 1000 0 0 1 1230 1757"/><path d="M1072 1692A1000 1000 0 0 1 1438 1746"/><path d="M1072 1692A1000 1000 0 0 1 1102 1931"/><path d="M1072 1692A1000 1000 0 0 1 878 1967"/><path d="M1072 1692A1000 1000 0 0 1 1260 2018"/><path d="M1072 1692A1000 1000 0 0 1 1425 1985"/><path d="M1072 1692A1000 1000 0 0 1 1177 979"/><path d="M1072 1692A1000 1000 0 0 1 1480 1871"/><path d="M1072 1692A1000 1000 0 0 1 1607 1989"/><path d="M1072 1692A1000 1000 0 0 1 1659 1869"/>
<path d="M832 1737A1000 1000 0 0 1 1230 1757"/><path d="M832 1737A1000 1000 0 0 1 1438 1746"/><path d="M832 1737A1000 1000 0 0 1 593 1842"/><path d="M832 1737A1000 1000 0 0 1 878 1967"/><path d="M832 1737A1000 1000 0 0 1 1102 1931"/><path d="M832 1737A1000 1000 0 0 0 1260 2018"/><path d="M832 1737A1000 1000 0 0 0 1425 1985"/><path d="M832 1737A1000 1000 0 0 1 1177 979"/><path d="M832 1737A1000 1000 0 0 1 1480 1871"/><path d="M832 1737A1000 1000 0 0 1 1659 1869"/>
<path d="M1230 1757A1000 1000 0 0 1 1438 1746"/><path d="M1230 1757A1000 1000 0 0 1 1102 1931"/><path d="M1230 1757A1000 1000 0 0 1 1425 1985"/><path d="M1230 1757A1000 1000 0 0 1 1260 2018"/><path d="M1230 1757A1000 1000 0 0 1 1480 1871"/><path d="M1230 1757A1000 1000 0 0 1 878 1967"/><path d="M1230 1757A1000 1000 0 0 1 1607 1989"/><path d="M1230 1757A1000 1000 0 0 1 1659 1869"/><path d="M1230 1757A1000 1000 0 0 1 593 1842"/>
<path d="M1438 1746A1000 1000 0 0 1 1480 1871"/><path d="M1438 1746A1000 1000 0 0 1 1659 1869"/><path d="M1438 1746A1000 1000 0 0 1 1425 1985"/><path d="M1438 1746A1000 1000 0 0 1 1607 1989"/><path d="M1438 1746A1000 1000 0 0 1 1102 1931"/><path d="M1438 1746A1000 1000 0 0 1 878 1967"/><path d="M1438 1746A1000 1000 0 0 1 1260 2018"/>
<path d="M593 1842A1000 1000 0 0 0 878 1967"/><path d="M593 1842A1000 1000 0 0 0 1102 1931"/><path d="M593 1842A1000 1000 0 0 1 1072 1692"/><path d="M593 1842A1000 1000 0 0 1 1456 1141"/><path d="M593 1842A1000 1000 0 0 0 1260 2018"/><path d="M593 1842A1000 1000 0 0 1 1438 1746"/>
<path d="M1480 1871A1000 1000 0 0 1 1659 1869"/><path d="M1480 1871A1000 1000 0 0 1 1425 1985"/><path d="M1480 1871A1000 1000 0 0 1 1607 1989"/><path d="M1480 1871A1000 1000 0 0 1 1102 1931"/>
<path d="M1659 1869A1000 1000 0 0 1 1607 1989"/><path d="M1659 1869A1000 1000 0 0 1 1425 1985"/><path d="M1659 1869A1000 1000 0 0 1 1102 1931"/><path d="M878 1967A1000 1000 0 0 1 1659 1869"/>
<path d="M878 1967A1000 1000 0 0 1 1102 1931"/><path d="M878 1967A1000 1000 0 0 0 1425 1985"/><path d="M878 1967A1000 1000 0 0 0 1260 2018"/><path d="M878 1967A1000 1000 0 0 0 1607 1989"/><path d="M878 1967A1000 1000 0 0 1 1480 1871"/>
<path d="M1102 1931A1000 1000 0 0 1 1425 1985"/><path d="M1102 1931A1000 1000 0 0 0 1260 2018"/><path d="M1102 1931A1000 1000 0 0 0 1607 1989"/><path d="M1425 1985A1000 1000 0 0 1 1260 2018"/><path d="M1425 1985A1000 1000 0 0 0 1607 1989"/><path d="M1607 1989A1000 1000 0 0 1 1456 1141"/>
</g>
</g>
<g id="nodes">
<g id="n-east-african-highlands" class="G"><circle cx="804" cy="328" r="15"/><text x="805" y="340" font-size="50">east-african highlands</text></g>
<g id="n-india" class="B"><circle cx="2079" cy="337" r="15"/><text x="2078" y="355" font-size="50">india</text></g>
<g id="n-time-series" class="B"><circle cx="2277" cy="930" r="15"/><text x="2276" y="939" font-size="49">time-series</text></g>
<g id="n-schistosomiasis" class="R"><circle cx="215" cy="818" r="15"/><text x="209" y="830" font-size="48">schistosomiasis</text></g>
<g id="n-transmission-intensity" class="R"><circle cx="310" cy="1079" r="15"/><text x="314" y="1086" font-size="50">transmission intensity</text></g>
<g id="n-gambia" class="R"><circle cx="245" cy="1603" r="15"/><text x="245" y="1612" font-size="50">gambia</text></g>
<g id="n-exploring-30-years" class="G"><circle cx="1594" cy="54" r="16"/><text x="1591" y="67" font-size="50">exploring 30 years</text></g>
<g id="n-system" class="G"><circle cx="1195" cy="326" r="16"/><text x="1192" y="339" font-size="48">system</text></g>
<g id="n-china" class="Y"><circle cx="2359" cy="1028" r="16"/><text x="2359" y="1036" font-size="53">china</text></g>
<g id="n-systems" class="Y"><circle cx="2351" cy="1213" r="16"/><text x="2350" y="1221" font-size="48">systems</text></g>
<g id="n-b2" class="B"><circle cx="1894" cy="357" r="17"/></g>
<g id="n-basic-reproduction-number" class="Y"><circle cx="1681" cy="1572" r="17"/><text x="1684" y="1585" font-size="50">basic reproduction number</text></g>
<g id="n-p15" class="P"><circle cx="1260" cy="2018" r="17"/></g>
<g id="n-p16" class="P"><circle cx="1607" cy="1989" r="17"/></g>
<g id="n-southern-africa" class="G"><circle cx="1552" cy="238" r="18"/><text x="1549" y="251" font-size="50">southern africa</text></g>
<g id="n-b8" class="B"><circle cx="2250" cy="674" r="18"/></g>
<g id="n-early-warning" class="B"><circle cx="2150" cy="795" r="18"/><text x="2161" y="802" font-size="50">early warning</text></g>
<g id="n-y15" class="Y"><circle cx="2057" cy="1704" r="18"/></g>
<g id="n-y16" class="Y"><circle cx="2390" cy="1712" r="18"/></g>
<g id="n-y18" class="Y"><circle cx="1864" cy="1875" r="18"/></g>
<g id="n-r2" class="R"><circle cx="299" cy="590" r="18"/></g>
<g id="n-r3" class="R"><circle cx="427" cy="656" r="18"/></g>
<g id="n-r5" class="R"><circle cx="427" cy="767" r="18"/></g>
<g id="n-r10" class="R"><circle cx="207" cy="1006" r="18"/></g>
<g id="n-seasonality" class="P"><circle cx="593" cy="1842" r="18"/><text x="591" y="1855" font-size="50">seasonality</text></g>
<g id="n-mosquitos" class="P"><circle cx="1659" cy="1869" r="18"/><text x="1658" y="1883" font-size="54">mosquitos</text></g>
<g id="n-g24" class="G"><circle cx="1513" cy="1345" r="18"/></g>
<g id="n-b10" class="B"><circle cx="1924" cy="766" r="19"/></g>
<g id="n-b18" class="B"><circle cx="1807" cy="1232" r="19"/></g>
<g id="n-climate-change" class="G"><circle cx="1159" cy="106" r="20"/><text x="1161" y="120" font-size="54">climate change</text></g>
<g id="n-g20" class="G"><circle cx="1068" cy="839" r="20"/></g>
<g id="n-y10" class="Y"><circle cx="910" cy="1430" r="20"/></g>
<g id="n-y11" class="Y"><circle cx="1974" cy="1467" r="20"/></g>
<g id="n-y12" class="Y"><circle cx="1423" cy="1504" r="20"/></g>
<g id="n-abundance" class="P"><circle cx="878" cy="1967" r="20"/><text x="880" y="1975" font-size="54">abundance</text></g>
<g id="n-highlands" class="G"><circle cx="936" cy="194" r="21"/><text x="937" y="208" font-size="54">highlands</text></g>
<g id="n-g21" class="G"><circle cx="1671" cy="903" r="21"/></g>
<g id="n-g11" class="G"><circle cx="1143" cy="489" r="22"/></g>
<g id="n-b19" class="B"><circle cx="1232" cy="1300" r="22"/></g>
<g id="n-r18" class="R"><circle cx="174" cy="1336" r="22"/></g>
<g id="n-p10" class="P"><circle cx="1480" cy="1871" r="22"/></g>
<g id="n-ecology" class="P"><circle cx="1425" cy="1985" r="22"/><text x="1428" y="1996" font-size="55">ecology</text></g>
<g id="n-g10" class="G"><circle cx="729" cy="486" r="23"/></g>
<g id="n-r13" class="R"><circle cx="663" cy="1106" r="23"/></g>
<g id="n-virus" class="P"><circle cx="1230" cy="1757" r="23"/><text x="1228" y="1770" font-size="55">virus</text></g>
<g id="n-b14" class="B"><circle cx="2152" cy="1035" r="24"/></g>
<g id="n-vectors" class="R"><circle cx="405" cy="1480" r="24"/><text x="408" y="1492" font-size="54">vectors</text></g>
<g id="n-culicidae" class="P"><circle cx="1438" cy="1746" r="24"/><text x="1442" y="1757" font-size="54">culicidae</text></g>
<g id="n-south-africa" class="G"><circle cx="996" cy="420" r="25"/><text x="994" y="432" font-size="54">south-africa</text></g>
<g id="n-b3" class="B"><circle cx="2082" cy="454" r="25"/></g>
<g id="n-r16" class="R"><circle cx="666" cy="1245" r="25"/></g>
<g id="n-elimination" class="B"><circle cx="2202" cy="521" r="26"/><text x="2204" y="536" font-size="54">elimination</text></g>
<g id="n-r19" class="R"><circle cx="576" cy="1320" r="26"/></g>
<g id="n-ebola" class="Y"><circle cx="2199" cy="1777" r="26"/><text x="2200" y="1791" font-size="54">ebola</text></g>
<g id="n-p13" class="P"><circle cx="1102" cy="1931" r="26"/></g>
<g id="n-g16" class="G"><circle cx="1222" cy="674" r="27"/></g>
<g id="n-plasmodium-falciparum" class="R"><circle cx="462" cy="1213" r="27"/><text x="467" y="1225" font-size="54">plasmodium falciparum</text></g>
<g id="n-r22" class="R"><circle cx="524" cy="1512" r="27"/></g>
<g id="n-environment" class="B"><circle cx="1789" cy="1461" r="27"/><text x="1790" y="1477" font-size="55">environment</text></g>
<g id="n-interventions" class="B"><circle cx="2000" cy="1034" r="28"/><text x="2004" y="1052" font-size="55">interventions</text></g>
<g id="n-western-kenya" class="P"><circle cx="734" cy="1478" r="29"/><text x="735" y="1489" font-size="54">western kenya</text></g>
<g id="n-anopheles-gambiae" class="G"><circle cx="753" cy="624" r="30"/><text x="760" y="642" font-size="54">anopheles-gambiae</text></g>
<g id="n-children" class="R"><circle cx="508" cy="946" r="30"/><text x="512" y="957" font-size="55">children</text></g>
<g id="n-g19" class="G"><circle cx="1373" cy="815" r="32"/></g>
<g id="n-early-warning-systems" class="B"><circle cx="2015" cy="610" r="32"/><text x="2019" y="625" font-size="54">early warning systems</text></g>
<g id="n-g23" class="G"><circle cx="1108" cy="1100" r="32"/></g>
<g id="n-ethiopia" class="B"><circle cx="1858" cy="500" r="33"/><text x="1857" y="515" font-size="54">ethiopia</text></g>
<g id="n-y5" class="Y"><circle cx="2215" cy="1151" r="33"/></g>
<g id="n-r24" class="R"><circle cx="1107" cy="1543" r="33"/></g>
<g id="n-rift-valley-fever" class="P"><circle cx="955" cy="1585" r="15"/><text x="954" y="1596" font-size="49">rift valley fever</text></g>
<g id="n-p4" class="P"><circle cx="720" cy="1683" r="34"/></g>
<g id="n-b7" class="B"><circle cx="1537" cy="624" r="35"/></g>
<g id="n-p5" class="P"><circle cx="1072" cy="1692" r="35"/></g>
<g id="n-kenya" class="P"><circle cx="832" cy="1737" r="35"/><text x="831" y="1746" font-size="59">kenya</text></g>
<g id="n-infection" class="R"><circle cx="864" cy="1125" r="36"/><text x="859" y="1139" font-size="58">infection</text></g>
<g id="n-g15" class="G"><circle cx="1050" cy="652" r="37"/></g>
<g id="n-prevalence" class="R"><circle cx="614" cy="767" r="37"/><text x="616" y="783" font-size="63">prevalence</text></g>
<g id="n-mortality" class="R"><circle cx="340" cy="1318" r="38"/><text x="338" y="1334" font-size="58">mortality</text></g>
<g id="n-models" class="R"><circle cx="1222" cy="1482" r="38"/><text x="1220" y="1492" font-size="63">models</text></g>
<g id="n-b15" class="B"><circle cx="1379" cy="1025" r="41"/></g>
<g id="n-epidemic" class="Y"><circle cx="2119" cy="1394" r="41"/><text x="2119" y="1410" font-size="58">epidemic</text></g>
<g id="n-r7" class="R"><circle cx="904" cy="832" r="42"/></g>
<g id="n-outbreak" class="Y"><circle cx="2244" cy="1585" r="42"/><text x="2249" y="1603" font-size="63">outbreak</text></g>
<g id="n-g7" class="G"><circle cx="1317" cy="384" r="43"/></g>
<g id="n-prediction" class="G"><circle cx="1521" cy="962" r="44"/><text x="1524" y="972" font-size="62">prediction</text></g>
<g id="n-y3" class="Y"><circle cx="1679" cy="1067" r="44"/></g>
<g id="n-covid-19" class="Y"><circle cx="2046" cy="1191" r="44"/><text x="2045" y="1207" font-size="63">covid-19</text></g>
<g id="n-b9" class="B"><circle cx="1462" cy="720" r="45"/></g>
<g id="n-r20" class="R"><circle cx="1069" cy="1376" r="45"/></g>
<g id="n-climate-change-2" class="G"><circle cx="1242" cy="818" r="46"/><text x="1240" y="837" font-size="67">climate-change</text></g>
<g id="n-impact" class="G"><circle cx="1668" cy="734" r="48"/><text x="1668" y="749" font-size="67">impact</text></g>
<g id="n-rainfall" class="G"><circle cx="1501" cy="460" r="50"/><text x="1505" y="483" font-size="72">rainfall</text></g>
<g id="n-r9" class="R"><circle cx="818" cy="965" r="52"/></g>
<g id="n-r11" class="R"><circle cx="999" cy="1035" r="53"/></g>
<g id="n-temperature" class="G"><circle cx="1345" cy="607" r="54"/><text x="1340" y="627" font-size="67">temperature</text></g>
<g id="n-b16" class="B"><circle cx="1596" cy="1195" r="56"/></g>
<g id="n-model" class="Y"><circle cx="1034" cy="1290" r="57"/><text x="1042" y="1313" font-size="72">model</text></g>
<g id="n-dynamics" class="Y"><circle cx="1744" cy="1337" r="62"/><text x="1744" y="1360" font-size="72">dynamics</text></g>
<g id="n-p1" class="P"><circle cx="1239" cy="1158" r="68"/></g>
<g id="n-malaria" class="R"><circle cx="1177" cy="979" r="104"/><text x="1177" y="1007" font-size="89">malaria</text></g>
<g id="n-africa" class="B"><circle cx="1398" cy="1304" r="108"/><text x="1398" y="1331" font-size="88">africa</text></g>
<g id="n-transmission" class="Y"><circle cx="1456" cy="1141" r="115"/><text x="1456" y="1173" font-size="95">transmission</text></g>
</g>
</svg>
